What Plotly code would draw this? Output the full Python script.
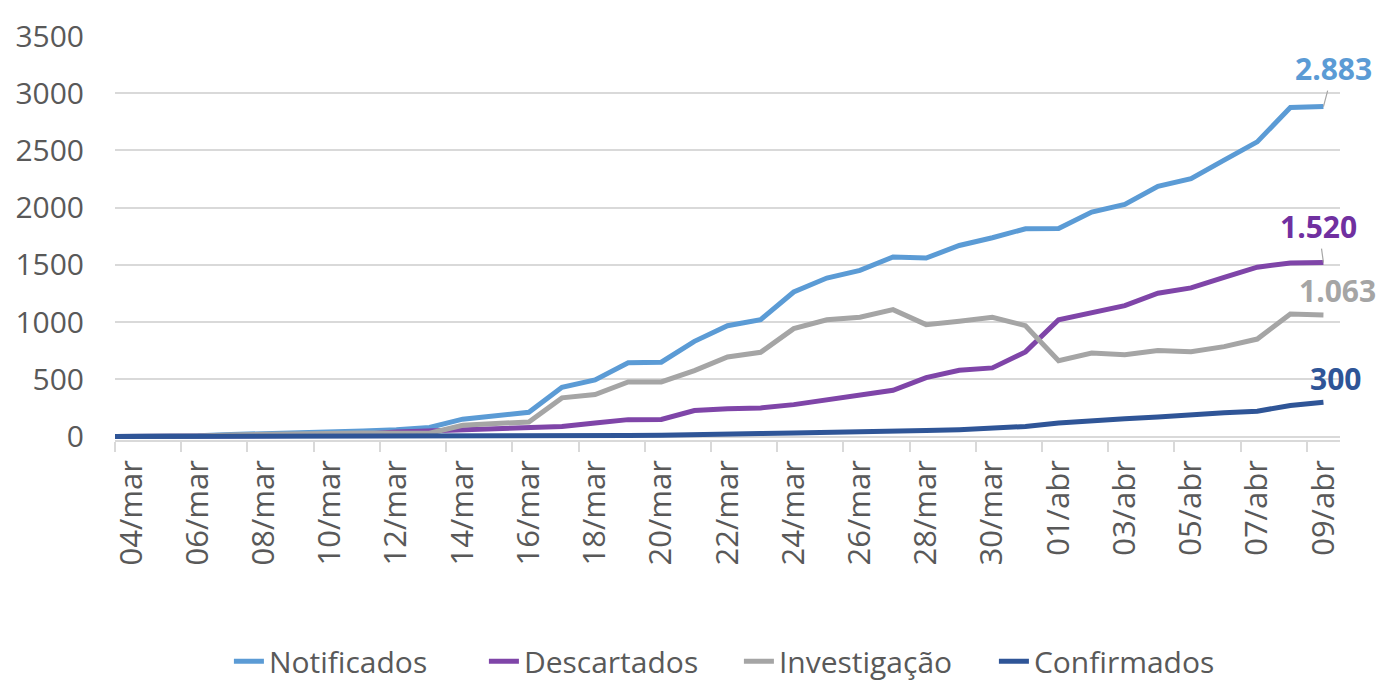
import plotly.graph_objects as go

# ---- data ----
dates = ["03/mar",
         "04/mar", "05/mar", "06/mar", "07/mar", "08/mar", "09/mar", "10/mar", "11/mar",
         "12/mar", "13/mar", "14/mar", "15/mar", "16/mar", "17/mar", "18/mar", "19/mar",
         "20/mar", "21/mar", "22/mar", "23/mar", "24/mar", "25/mar", "26/mar", "27/mar",
         "28/mar", "29/mar", "30/mar", "31/mar", "01/abr", "02/abr", "03/abr", "04/abr",
         "05/abr", "06/abr", "07/abr", "08/abr", "09/abr"]

notificados = [0,
               1, 3, 8, 18, 25, 28, 40, 48, 60, 80, 152, 183, 212, 430, 495, 645,
               650, 832, 969, 1021, 1263, 1385, 1452, 1569, 1560, 1670, 1737, 1816,
               1818, 1962, 2029, 2187, 2254, 2415, 2575, 2876, 2883]

descartados = [0,
               0, 1, 3, 5, 8, 10, 15, 20, 40, 50, 55, 63, 72, 88, 119, 148,
               150, 227, 244, 250, 279, 323, 361, 404, 515, 580, 600, 740,
               1021, 1077, 1144, 1253, 1299, 1392, 1480, 1516, 1520]

investigacao = [0,
                0, 2, 6, 14, 20, 22, 30, 32, 28, 30, 99, 113, 128, 338, 367, 477,
                477, 576, 696, 736, 943, 1021, 1042, 1109, 978, 1007, 1042, 969,
                663, 730, 715, 751, 742, 786, 852, 1071, 1063]

confirmados = [0,
               0, 0, 0, 0, 0, 0, 0, 0, 0, 1, 2, 3, 4, 5, 7, 9,
               12, 20, 21, 26, 32, 35, 42, 48, 52, 60, 75, 88,
               118, 140, 155, 170, 193, 208, 222, 272, 300]

series_names = ["Notificados", "Descartados", "Investigação", "Confirmados"]
series_values = [notificados, descartados, investigacao, confirmados]
line_colors = ["#5b9bd5", "#7f45a8", "#a5a5a5", "#2f5597"]
label_colors = ["#5b9bd5", "#7030a0", "#a5a5a5", "#2f5597"]

y_ticks = [0, 500, 1000, 1500, 2000, 2500, 3000, 3500]

FONT = "Open Sans, Segoe UI, sans-serif"
TXT = "#595959"

x_idx = list(range(len(dates)))
label_idx = list(range(1, len(dates), 2))
minor_idx = [i - 0.5 for i in label_idx]

fig = go.Figure()
for name, vals, col in zip(series_names, series_values, line_colors):
    fig.add_trace(go.Scatter(
        x=x_idx, y=vals, mode="lines", name=name,
        line=dict(color=col, width=5),
    ))


def br(v):
    return f"{v:,}".replace(",", ".")


last = len(dates) - 1
# Data labels for the last point of each series
fig.add_annotation(x=last, y=notificados[-1], text=br(notificados[-1]),
                   showarrow=True, arrowhead=0, arrowwidth=1.2, arrowcolor="#a6a6a6",
                   ax=10, ay=-38, standoff=0, startstandoff=0,
                   font=dict(family=FONT, size=30, color=label_colors[0], weight="bold"))
fig.add_annotation(x=last, y=descartados[-1], text=br(descartados[-1]),
                   showarrow=True, arrowhead=0, arrowwidth=1.2, arrowcolor="#a6a6a6",
                   ax=-5, ay=-36, standoff=0,
                   font=dict(family=FONT, size=30, color=label_colors[1], weight="bold"))
fig.add_annotation(x=last, y=investigacao[-1], text=br(investigacao[-1]),
                   showarrow=False, xshift=14, yshift=24,
                   font=dict(family=FONT, size=30, color=label_colors[2], weight="bold"))
fig.add_annotation(x=last, y=confirmados[-1], text=br(confirmados[-1]),
                   showarrow=False, xshift=12, yshift=24,
                   font=dict(family=FONT, size=30, color=label_colors[3], weight="bold"))

fig.update_layout(
    width=1376, height=683,
    margin=dict(l=115, r=36, t=36, b=243),
    paper_bgcolor="white", plot_bgcolor="white",
    font=dict(family=FONT, size=30, color=TXT),
    showlegend=True,
    legend=dict(orientation="h", xref="container", yref="container",
                x=0.537, xanchor="center", y=0.032, yanchor="middle",
                font=dict(family=FONT, size=30, color=TXT),
                entrywidth=210, entrywidthmode="pixels",
                itemwidth=30, tracegroupgap=0, bgcolor="rgba(0,0,0,0)"),
)

fig.update_xaxes(
    range=[0.5, len(dates) - 0.5],
    tickmode="array", tickvals=label_idx, ticktext=[dates[i] for i in label_idx],
    tickangle=-90, ticks="", ticklabelstandoff=6,
    tickfont=dict(family=FONT, size=31, color=TXT),
    showgrid=False, zeroline=False, automargin=False,
    showline=True, linecolor="#d9d9d9", linewidth=1.5,
    minor=dict(tickmode="array", tickvals=minor_idx, ticks="outside",
               ticklen=10, tickwidth=1.5, tickcolor="#d9d9d9", showgrid=False),
)

fig.update_yaxes(
    range=[-30, 3500],
    tickmode="array", tickvals=y_ticks, ticktext=[str(v) for v in y_ticks],
    ticks="", ticklabelstandoff=30, automargin=False,
    tickfont=dict(family=FONT, size=30, color=TXT),
    showgrid=True, gridcolor="#d9d9d9", gridwidth=1.5,
    zeroline=False, showline=False,
)

fig.write_html("out.html", config={"displayModeBar": False},
               post_script="document.body.style.margin='0';document.body.style.overflow='hidden';")
